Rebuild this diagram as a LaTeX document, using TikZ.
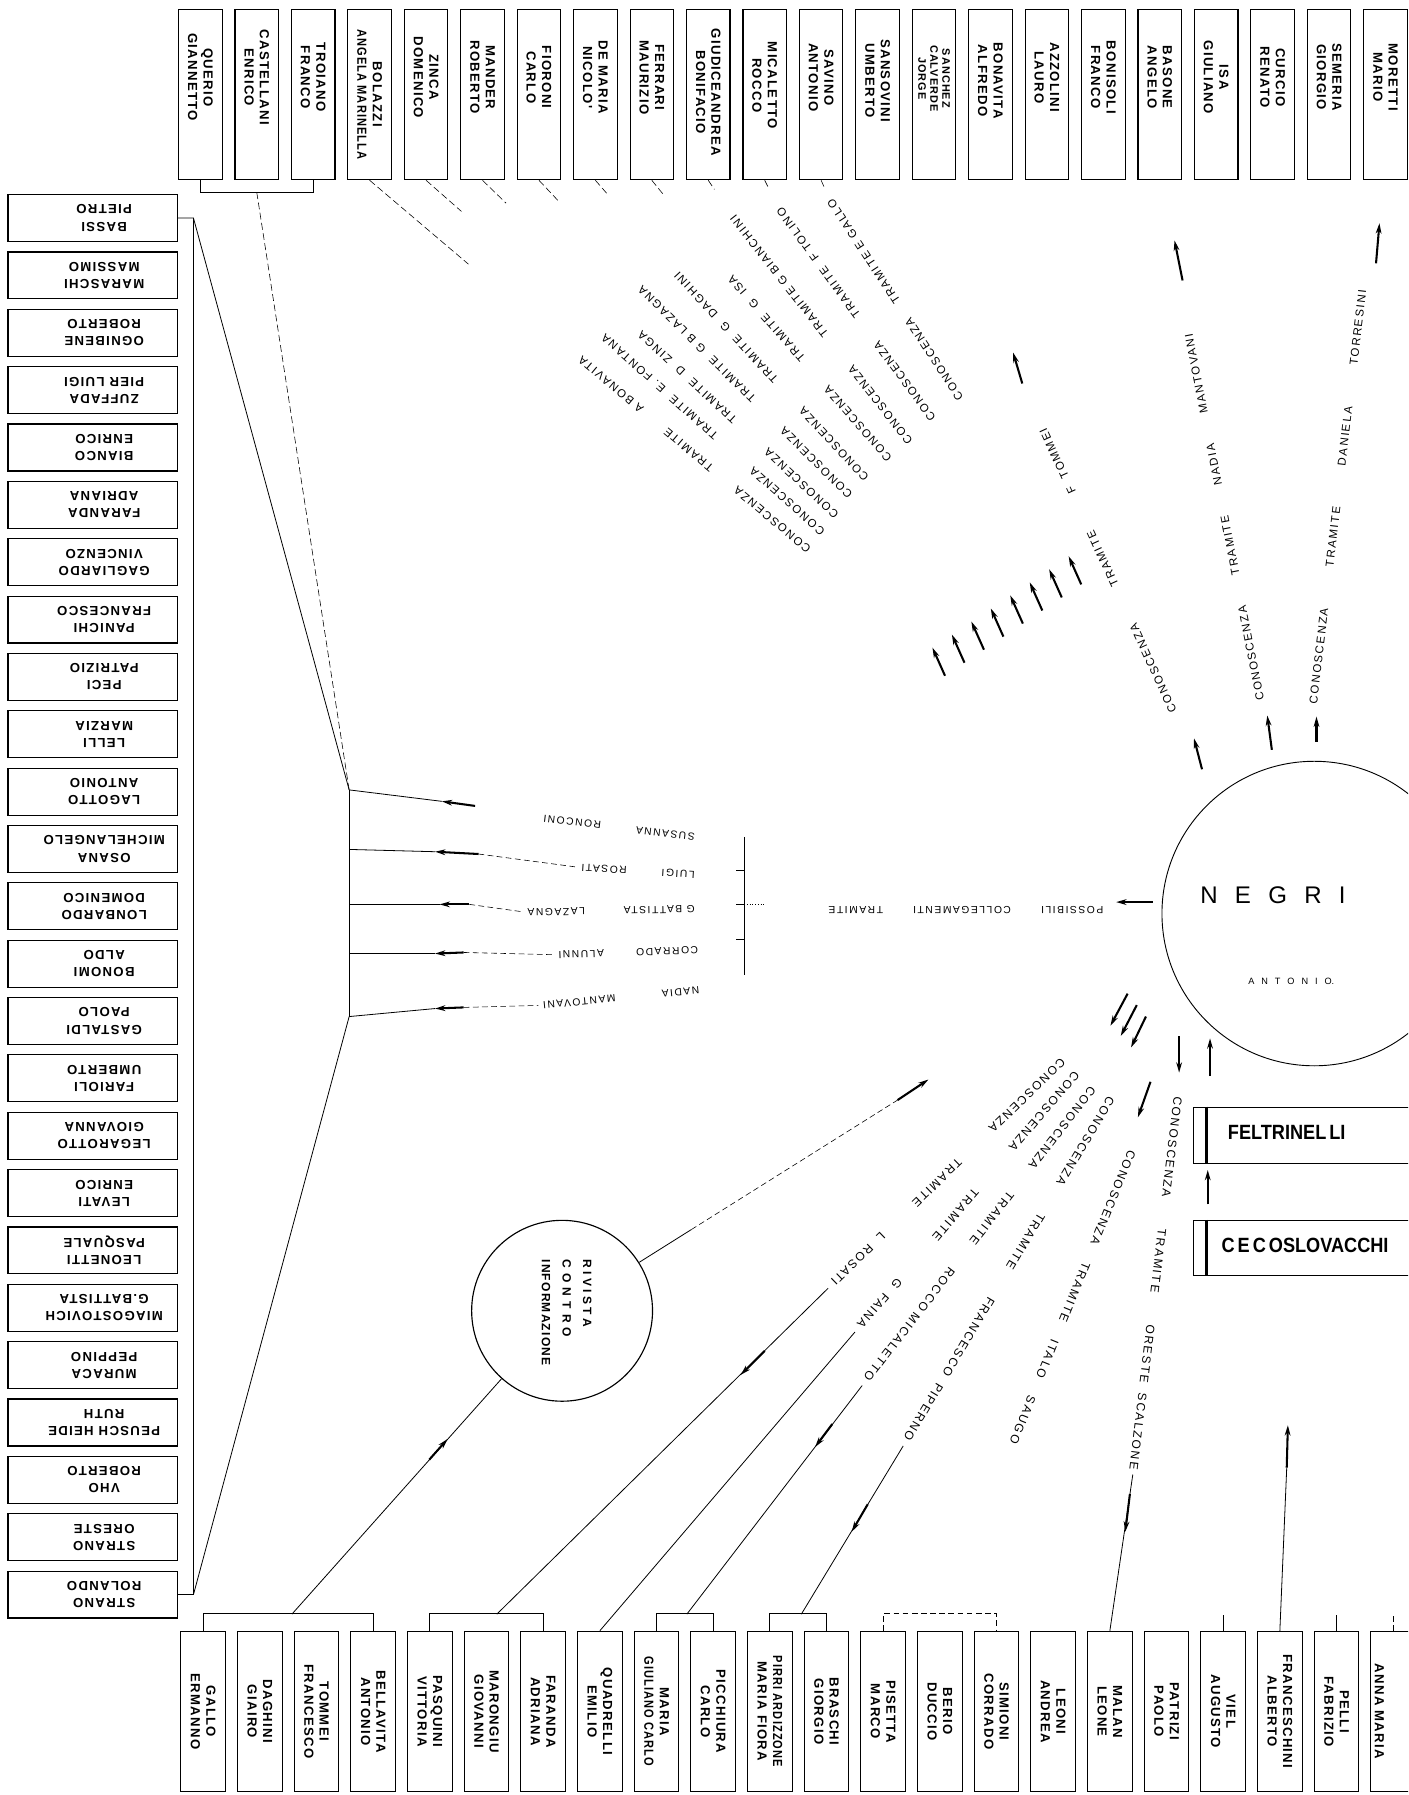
\documentclass[tikz,border=0pt]{standalone}
\usepackage{fontspec}
\setmainfont{Liberation Sans}
\newfontfamily\boxfont{Liberation Sans}[LetterSpace=10]
\newfontfamily\labfont{Liberation Sans}[LetterSpace=15]
\newfontfamily\plainsans{Liberation Sans}
\usetikzlibrary{arrows.meta,calc}
\newcommand{\mylab}[6]{\node[#1, rotate=#4] (#2) at (#3) {\makebox[#5pt][l]{#6}};}
\newcommand{\sqz}[1]{\scalebox{0.84}[1]{#1}}
\begin{document}
\begin{tikzpicture}[x=1pt,y=-1pt,
 bx/.style={draw, line width=1pt, inner sep=0pt},
 tbx/.style={bx, minimum width=38pt, minimum height=149pt},
 lbx/.style={bx, minimum width=148pt, minimum height=41pt},
 bbx/.style={bx, minimum width=39pt, minimum height=140pt},
 vtxt/.style={rotate=-90, align=center, inner sep=0pt, font=\boxfont\bfseries\fontsize{11.5}{13.5}\selectfont},
 utxt/.style={rotate=180, align=center, inner sep=0pt, font=\boxfont\bfseries\fontsize{11.5}{15}\selectfont},
 ln/.style={line width=0.7pt},
 fnt/.style={line width=0.5pt, dash pattern=on 6pt off 3pt},
 dsh/.style={line width=0.5pt, dash pattern=on 5pt off 3pt},
 arr/.style={line width=1.8pt, -{Stealth[length=9pt,width=5pt]}},
 lab/.style={font=\labfont\fontsize{10}{11}\selectfont, inner sep=0pt, anchor=west},
 labd/.style={lab, font=\labfont\fontsize{10.5}{11}\selectfont},
 labm/.style={lab, font=\labfont\fontsize{9}{10}\selectfont},
]
\path[use as bounding box] (0,0) rectangle (1230,1568);
\fill[white] (0,0) rectangle (1230,1568);
\clip (0,0) rectangle (1230,1568);

% ---------- top row
\foreach \nm/\sh [count=\i from 0] in {{QUERIO\\GIANNETTO}/15,{CASTELLANI\\ENRICO}/15,{TROIANO\\FRANCO}/15,{BOLAZZI\\\sqz{ANGELA MARINELLA}}/0,{ZINCA\\DOMENICO}/15,{MANDER\\ROBERTO}/15,{FIORONI\\CARLO}/15,{DE MARIA\\NICOLO'}/15,{FERRARI\\MAURIZIO}/15,{GIUDICEANDREA\\BONIFACIO}/2,{MICALETTO\\ROCCO}/8,{SAVINO\\ANTONIO}/15,{SANSOVINI\\UMBERTO}/12,{}/0,{BONAVITA\\ALFREDO}/12,{AZZOLINI\\LAURO}/15,{BONISOLI\\FRANCO}/15,{BASONE\\ANGELO}/15,{ISA\\GIULIANO}/15,{CURCIO\\RENATO}/15,{SEMERIA\\GIORGIO}/15,{MORETTI\\MARIO}/15}{
  \node[tbx] (t\i) at ({175+49.3*\i},82.5) {};
  \node[vtxt] (tt\i) at ([yshift=\sh pt]t\i.center) {\nm};
}
\node[vtxt, font=\boxfont\bfseries\fontsize{9.5}{10.5}\selectfont] (tsan) at ([yshift=14pt]t13.center) {SANCHEZ\\CALVERDE\\JORGE};

% ---------- left column
\foreach \nm [count=\j from 0] in {{BASSI\\PIETRO},{MARASCHI\\MASSIMO},{OGNIBENE\\ROBERTO},{ZUFFADA\\PIER LUIGI},{BIANCO\\ENRICO},{FARANDA\\ADRIANA},{GAGLIARDO\\VINCENZO},{PANICHI\\FRANCESCO},{PECI\\PATRIZIO},{LELLI\\MARZIA},{LAGOTTO\\ANTONIO},{OSANA\\MICHELANGELO},{LONBARDO\\DOMENICO},{BONOMI\\ALDO},{GASTALDI\\PAOLO},{FARIOLI\\UMBERTO},{LEGAROTTO\\GIOVANNA},{LEVATI\\ENRICO},{LEONETTI\\PASQUALE},{MIAGOSTOVICH\\G.BATTISTA},{MURACA\\PEPPINO},{PEUSCH HEIDE\\RUTH},{VHO\\ROBERTO},{STRANO\\ORESTE},{STRANO\\ROLANDO}}{
  \node[lbx] (l\j) at (81,{190.5+50.1*\j}) {};
  \node[utxt] (lt\j) at ([xshift=10pt]l\j.center) {\nm};
}

% ---------- bottom row
\foreach \nm [count=\i from 0] in {{GALLO\\ERMANNO},{DAGHINI\\GIAIRO},{TOMMEI\\FRANCESCO},{BELLAVITA\\ANTONIO},{PASQUINI\\VITTORIA},{MARONGIU\\GIOVANNI},{FARANDA\\ADRIANA},{QUADRELLI\\EMILIO},{MARIA\\\sqz{GIULIANO CARLO}},{PICCHIURA\\CARLO},{\sqz{PIRRI ARDIZZONE}\\MARIA FIORA},{BRASCHI\\GIORGIO},{PISETTA\\MARCO},{BERIO\\DUCCIO},{SIMIONI\\CORRADO},{LEONI\\ANDREA},{MALAN\\LEONE},{PATRIZI\\PAOLO},{VIEL\\AUGUSTO},{FRANCESCHINI\\ALBERTO},{PELLI\\FABRIZIO},{}}{
  \node[bbx] (b\i) at ({177.5+49.5*\i},1495) {};
  \node[vtxt] (bt\i) at (b\i) {\nm};
}
\node[vtxt] (banna) at (1205,1495) {ANNA MARIA};

% ---------- NEGRI
\node[draw, circle, minimum size=266pt, inner sep=0pt, line width=0.8pt] (negri) at (1148,798) {};
\node[font=\plainsans\fontsize{21}{21}\selectfont, inner sep=0pt] (negt) at (1112,782) {\makebox[127pt][s]{N\hfill E\hfill G\hfill R\hfill I}};
\node[font=\plainsans\fontsize{8}{8}\selectfont, inner sep=0pt] (anto) at (1128,857) {\makebox[75pt][s]{A\hfill N\hfill T\hfill O\hfill N\hfill I\hfill O.}};

% ---------- RIVISTA
\node[draw, circle, minimum size=158pt, inner sep=0pt, line width=1pt] (riv) at (491,1145) {};
\node[rotate=-90, anchor=west, align=left, inner sep=0pt, font=\boxfont\bfseries\fontsize{10.5}{18}\selectfont] (rivt) at (495,1100)
 {\makebox[59pt][s]{R\hfill I\hfill V\hfill I\hfill S\hfill T\hfill A}\\\makebox[68pt][s]{C\hfill O\hfill N\hfill T\hfill R\hfill O}\\INFORMAZIONE};

% ---------- FELTRINELLI / CECOSLOVACCHI
\node[draw, minimum width=220pt, minimum height=49pt, anchor=west, inner sep=0pt, line width=0.8pt] (felt) at (1042,991.5) {};
\draw[line width=2.2pt] ([xshift=12pt]felt.north west) -- ([xshift=12pt]felt.south west);
\node[font=\plainsans\bfseries\fontsize{18}{18}\selectfont, inner sep=0pt] (feltt) at (1124,989) {\scalebox{0.88}[1]{FELTRINEL\,LI}};
\node[draw, minimum width=220pt, minimum height=48pt, anchor=west, inner sep=0pt, line width=0.8pt] (ceco) at (1042,1090) {};
\draw[line width=2.2pt] ([xshift=12pt]ceco.north west) -- ([xshift=12pt]ceco.south west);
\node[font=\plainsans\bfseries\fontsize{18}{18}\selectfont, inner sep=0pt] (cecot) at (1140,1088) {\scalebox{0.88}[1]{C\,E\,C\,OSLOVACCHI}};

% ---------- upper fan labels
\mylab{lab}{u1}{839,349}{123.2}{208}{CONOSCENZA\hfill TRAMITE~E~GALLO}
\mylab{lab}{u2}{815,367}{126.1}{228}{CONOSCENZA\hfill TRAMITE~~F~TOLINO}
\mylab{lab}{u3}{795,387}{128.1}{251}{CONOSCENZA\hfill TRAMITE~G~BIANCHINI}
\mylab{lab}{u4}{777,402}{131.0}{212}{CONOSCENZA\hfill TRAMITE~~G~~ISA}
\mylab{lab}{u5}{757,419}{132.7}{245}{CONOSCENZA\hfill TRAMITE~~G~~DAGHINI}
\mylab{lab}{u6}{743,434}{135.2}{259}{CONOSCENZA\hfill TRAMITE~~G~B~LAZAGNA}
\mylab{lab}{u7}{731,451}{137.1}{235}{CONOSCENZA\hfill TRAMITE~~D~~ZINGA}
\mylab{lab}{u8}{719,466}{138.1}{258}{CONOSCENZA\hfill TRAMITE~~E.~FONTANA}
\mylab{lab}{u9}{707,481}{140.1}{261}{CONOSCENZA\hfill TRAMITE\hfill A~BONAVITA}

% ---------- right fan labels
\mylab{lab}{r1}{1025,622}{114.8}{272}{CONOSCENZA\hfill TRAMITE\hfill F~~TOMMEI}
\mylab{lab}{r2}{1101,612}{101.1}{326}{CONOSCENZA\hfill TRAMITE\hfill NADIA\hfill MANTOVANI}
\mylab{lab}{r3}{1147,615}{83.2}{364}{CONOSCENZA\hfill TRAMITE\hfill DANIELA\hfill TORRESINI}

% ---------- lower fan labels
\mylab{labd}{d1}{929,926}{224.1}{280}{CONOSCENZA\hfill TRAMITE\hfill L~~ROSATI}
\mylab{labd}{d2}{941,937}{229.4}{292}{CONOSCENZA\hfill TRAMITE\hfill G~~FAINA}
\mylab{labd}{d3}{955,950}{232.2}{323}{CONOSCENZA\hfill TRAMITE\hfill ROCCO~MICALETTO}
\mylab{labd}{d4}{971,959}{239.1}{348}{CONOSCENZA\hfill TRAMITE\hfill FRANCESCO~~PIPERNO}
\mylab{labd}{d5}{989,1005}{247.9}{276}{CONOSCENZA\hfill TRAMITE\hfill ITALO\hfill SAUGO}
\mylab{labd}{d6}{1029,958}{263.2}{328}{CONOSCENZA\hfill TRAMITE\hfill ORESTE~~SCALZONE}

% ---------- middle labels
\mylab{labm}{pos}{964,795}{180}{240}{POSSIBILI\hfill COLLEGAMENTI\hfill TRAMITE}
\mylab{labm}{n1}{607,731}{173.1}{133}{SUSANNA\hfill RONCONI}
\mylab{labm}{n2}{607,764}{176.5}{99}{LUIGI\hfill ROSATI}
\mylab{labm}{n3}{607,794}{181.2}{146}{G~BATTISTA\hfill LAZAGNA}
\mylab{labm}{n4}{610,830}{181.9}{122}{CORRADO\hfill ALUNNI}
\mylab{labm}{n5}{611,865}{185.5}{137}{NADIA\hfill MANTOVANI}

% ---------- coordinates
\coordinate (cQ) at (224.3,168);
\coordinate (f1) at (305,690);
\coordinate (f2) at (305,742);
\coordinate (f3) at (305,790);
\coordinate (f4) at (305,833);
\coordinate (f5) at (305,888);
\coordinate (sp1) at (169,190.5);
\coordinate (sp2) at (169,1392.9);
\coordinate (m1t) at (415,704); \coordinate (m1h) at (386,700);
\coordinate (m2t) at (418,746); \coordinate (m2h) at (380,744);
\coordinate (m3t) at (410,790); \coordinate (m3h) at (384,790);
\coordinate (m4t) at (405,832); \coordinate (m4h) at (380,833);
\coordinate (m5t) at (405,880); \coordinate (m5h) at (380,881);
\coordinate (bk1) at (650,731); \coordinate (bk2) at (650,852);
\coordinate (pa1) at (1007,788); \coordinate (pa2) at (975,788);
\coordinate (gG) at (255,1410);
\coordinate (gP) at (434,1410);
\coordinate (gM) at (600,1410);
\coordinate (gR) at (700,1410);
\coordinate (rv1) at (604,1074);
\coordinate (b8t) at (784,961); \coordinate (b8h) at (811,943);
\coordinate (fa1) at (1124,1282); \coordinate (fa2) at (1125,1245);

% ---------- left structure
\draw[ln] (t0.south) -- ++(0,11) -| (t2.south);
\draw[fnt] (cQ) -- (f1);
\draw[ln] (l0.east) -- (sp1) -- (sp2) -- (l24.east);
\draw[ln] (sp1) -- (f1);
\draw[ln] (sp2) -- (f5);
\draw[ln] (f1) -- (f5);
\draw[ln] (f1) -- (m1h);
\draw[ln] (f2) -- (m2h);
\draw[ln] (f3) -- (m3h);
\draw[ln] (f4) -- (m4h);
\draw[ln] (f5) -- (m5h);
\draw[arr] (m1t) -- (m1h);
\draw[arr] (m2t) -- (m2h);
\draw[arr] (m3t) -- (m3h);
\draw[arr] (m4t) -- (m4h);
\draw[arr] (m5t) -- (m5h);
\draw[dsh, shorten >=4pt] (m2t) -- (n2.east);
\draw[dsh, shorten >=4pt] (m3t) -- (n3.east);
\draw[dsh, shorten >=4pt] (m4t) -- (n4.east);
\draw[dsh, shorten >=4pt] (m5t) -- (n5.east);
\draw[ln] (bk1) -- (bk2);
\draw[ln] (650,760) -- (643,760);
\draw[ln] (650,790) -- (643,790);
\draw[ln] (650,821) -- (643,821);
\draw[dotted] (650,790) -- (668,790);
\draw[arr] (pa1) -- (pa2);

% ---------- top box connectors (faint)
\draw[fnt] (t3.south) -- ($(t3.south)!0.47!(u9.east)$);
\draw[fnt] (t4.south) -- ($(t4.south)!0.2!(u8.east)$);
\draw[fnt] (t5.south) -- ($(t5.south)!0.15!(u7.east)$);
\draw[fnt] (t6.south) -- ($(t6.south)!0.2!(u6.east)$);
\draw[fnt] (t7.south) -- ($(t7.south)!0.15!(u5.east)$);
\draw[fnt] (t8.south) -- ($(t8.south)!0.15!(u4.east)$);
\draw[fnt] (t9.south) -- ($(t9.south)!0.25!(u3.east)$);
\draw[fnt] (t10.south) -- ($(t10.south)!0.3!(u2.east)$);
\draw[fnt] (t11.south) -- ($(t11.south)!0.4!(u1.east)$);

% ---------- upper arrows
\foreach \k in {0,...,7} \draw[arr] ({825.5+17*\k},{590.3-11.4*\k}) -- ++(-11,-24.6);
\draw[arr] (893,335) -- (885,308);
\draw[arr] (1033,245) -- (1026,210);
\draw[arr] (1202,230) -- (1205,195);
\draw[arr] (1050,672) -- (1043,645);
\draw[arr] (1111,655) -- (1107,625);
\draw[arr] (1150,648) -- (1150,626);

% ---------- lower arrows near NEGRI
\draw[arr] (985,868) -- (970,896);
\draw[arr] (993,878) -- (979,905);
\draw[arr] (1001,888) -- (988,915);
\draw[arr] (1005,945) -- (994,976);
\draw[arr] (1030,905) -- (1030,937);
\draw[arr] (1057,940) -- (1057,907);
\draw[arr] (1055,1052) -- (1055,1022);

% ---------- RIVISTA connectors
\draw[ln] (riv) -- (rv1);
\draw[dsh] (rv1) -- (b8t);
\draw[arr] (b8t) -- (b8h);
\draw[ln] (riv) -- (gG);
\draw[arr] (375,1275) -- (391,1257);

% ---------- lower fan lines
\draw[ln, shorten <=6pt] (d1.east) -- (gP);
\draw[ln, shorten <=6pt] (d2.east) -- (b7.north);
\draw[ln, shorten <=6pt] (d3.east) -- (gM);
\draw[ln, shorten <=6pt] (d4.east) -- (gR);
\draw[ln, shorten <=4pt] (d6.east) -- (b16.north);
\draw[arr] (668,1180) -- (647,1201);
\draw[arr] (727,1244) -- (712,1264);
\draw[arr] (758,1314) -- (744,1338);
\draw[arr] (987,1305) -- (983,1338);

% ---------- bottom brackets and ticks
\draw[ln] (b0.north) -- ++(0,-15) -| (b3.north);
\draw[ln] (b4.north) -- ++(0,-15) -| (b6.north);
\draw[ln] (b8.north) -- ++(0,-15) -| (b9.north);
\draw[ln] (b10.north) -- ++(0,-15) -| (b11.north);
\draw[dsh] (b12.north) -- ++(0,-15) -| (b14.north);
\draw[ln] (b18.north) -- ++(0,-14);
\draw[ln] (b20.north) -- ++(0,-14);
\draw[dsh] (b21.north) -- ++(0,-14);
\draw[ln] (b19.north) -- (fa1);
\draw[arr] (fa1) -- (fa2);
\end{tikzpicture}
\end{document}
